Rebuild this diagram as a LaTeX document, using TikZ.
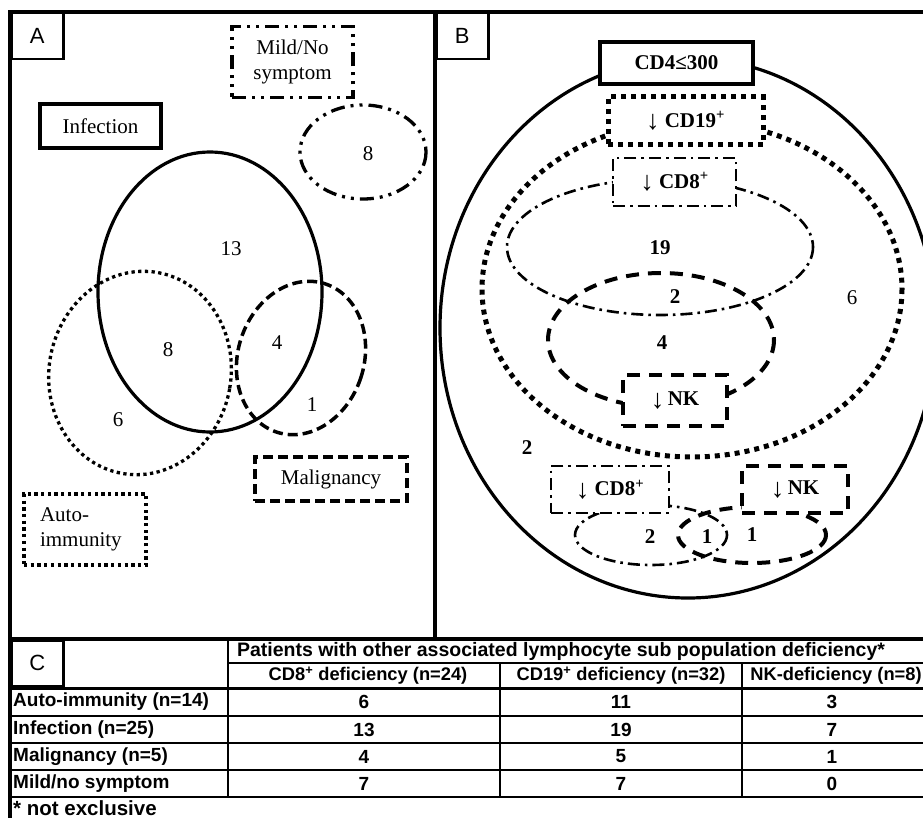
\documentclass[tikz,border=0pt]{standalone}
\usepackage{fontspec}
\setmainfont{Liberation Serif}
\setsansfont{Liberation Sans}
\usetikzlibrary{positioning}

\newcommand{\lowarrow}{\raisebox{-2.5pt}{\fontsize{27}{27}\selectfont\mdseries ↓}}

\tikzset{
  venn/.style={font=\fontsize{21}{25}\selectfont},
  num/.style={venn, inner sep=0pt},
  bnum/.style={venn, inner sep=0pt, font=\fontsize{21}{25}\selectfont\bfseries},
  solidline/.style={line width=3.2pt},
  dotline/.style={line width=3.3pt, dash pattern=on 3.3pt off 3.4pt},
  bigdotline/.style={line width=5pt, dash pattern=on 5pt off 5pt},
  dashline/.style={line width=3.5pt, dash pattern=on 10pt off 5pt},
  bigdashline/.style={line width=4pt, dash pattern=on 13pt off 9pt},
  dashdotdot/.style={line width=3.3pt, dash pattern=on 14pt off 6pt on 3pt off 6pt on 3pt off 6pt},
  dashdot/.style={line width=2.6pt, dash pattern=on 12pt off 5pt on 2.6pt off 5pt},
  labelbox/.style={draw, venn, inner sep=0pt, fill=white},
  cellbox/.style={labelbox, font=\fontsize{21}{25}\selectfont\bfseries},
  panel/.style={draw, line width=2.5pt, minimum width=52pt, minimum height=46pt, inner sep=0pt,
    font=\fontsize{22}{22}\selectfont\sffamily},
  cell/.style={inner sep=0pt, font=\fontsize{19}{20}\selectfont\sffamily\bfseries},
  headcell/.style={inner sep=0pt, font=\fontsize{18.3}{20}\selectfont\sffamily\bfseries},
  rowline/.style={line width=2pt},
}

\begin{document}
\begin{tikzpicture}[x=1pt, y=-1pt]
\useasboundingbox (0,0) rectangle (923,818);
\clip (0,0) rectangle (923,818);

%Frame
\draw[line width=3.5pt] (10,818) -- (10,12) -- (930,12);
\draw[line width=4pt] (435,12) -- (435,639);
\node[panel, anchor=north west] (pa) at (10,12) {A};
\node[panel, anchor=north west] (pb) at (435,12) {B};

%Panel A ellipses
\draw[dashdotdot] (363,152) ellipse [x radius=63, y radius=47];
\draw[solidline] (210,292) ellipse [x radius=112, y radius=140];
\draw[dotline, rotate around={-10:(140,373)}] (140,373) ellipse [x radius=91, y radius=102];
\draw[dashline, rotate around={-18:(301,358)}] (301,358) ellipse [x radius=63, y radius=78];

%Panel A labels
\node[labelbox, dashdotdot, minimum width=121pt, minimum height=71pt, align=center] (mild) at (292.5,62) {Mild/No\\symptom};
\node[labelbox, line width=3.5pt, minimum width=121pt, minimum height=44pt] (infection) at (100.5,126) {Infection};
\node[labelbox, dashline, minimum width=152pt, minimum height=44pt] (malignancy) at (331,479) {Malignancy};
\node[labelbox, dotline, minimum width=122pt, minimum height=71pt, align=left, text width=90pt] (autoimmunity) at (85,529.5) {Auto-\\immunity};

%Panel A numbers
\node[num] (nmild) at (368,154) {8};
\node[num] (ninf) at (231,249) {13};
\node[num] (ninfauto) at (168,350) {8};
\node[num] (nauto) at (118,420) {6};
\node[num] (ninfmal) at (277,343) {4};
\node[num] (nmal) at (312,405) {1};

%Panel B outer ellipse
\draw[solidline] (688,328) ellipse [x radius=248, y radius=270];
\node[cellbox, line width=4pt, minimum width=153pt, minimum height=42pt] (cdfour) at (676.5,63) {CD4≤300};

%CD19 set
\draw[bigdotline] (692,289) ellipse [x radius=210, y radius=168];
\draw[dashdot] (660,247) ellipse [x radius=153, y radius=68];
\draw[bigdashline] (661,340) ellipse [x radius=113, y radius=67];
\node[cellbox, bigdotline, minimum width=155pt, minimum height=48pt] (cdnineteen) at (685.5,121) {\lowarrow\ CD19\textsuperscript{+}};
\node[cellbox, dashdot, minimum width=123pt, minimum height=48pt] (cdeight) at (674.5,182) {\lowarrow\ CD8\textsuperscript{+}};
\node[cellbox, bigdashline, minimum width=104pt, minimum height=51pt] (nk) at (675,400.5) {\lowarrow\,NK};

%Lower sets
\draw[dashdot] (651,535) ellipse [x radius=76, y radius=30];
\draw[bigdashline] (752,535) ellipse [x radius=74, y radius=28];
\node[cellbox, dashdot, minimum width=118pt, minimum height=47pt] (cdeightlow) at (610,489.5) {\lowarrow\ CD8\textsuperscript{+}};
\node[cellbox, bigdashline, minimum width=106pt, minimum height=47pt] (nklow) at (795,489.5) {\lowarrow\,NK};

%Panel B numbers
\node[bnum] (ncdnineteen) at (660,248) {19};
\node[bnum] (ncdeightnk) at (675,297) {2};
\node[bnum] (nnk) at (662,343) {4};
\node[num] (nonly) at (852,298) {6};
\node[bnum] (ncdfour) at (527,448) {2};
\node[bnum] (ncdeightlow) at (650,537) {2};
\node[bnum] (nboth) at (707,537) {1};
\node[bnum] (nnklow) at (752,535) {1};

%Table
\draw[line width=3.5pt] (10,639) -- (930,639);
\node[panel, anchor=north west] (pc) at (10,639) {C};
\draw[rowline] (228,639) -- (228,797);
\draw[rowline] (228,663) -- (930,663);
\draw[rowline] (500,663) -- (500,797);
\draw[rowline] (742,663) -- (742,797);
\draw[line width=3pt] (10,688) -- (930,688);
\foreach \y in {716,743,770,797}
  \draw[rowline] (10,\y) -- (930,\y);

\node[cell, font=\fontsize{19.5}{20}\selectfont\sffamily\bfseries] (head) at (561,651) {Patients with other associated lymphocyte sub population deficiency*};
\node[headcell] (hcdeight) at (368,675.5) {CD8\textsuperscript{+} deficiency (n=24)};
\node[headcell] (hcdnineteen) at (621,675.5) {CD19\textsuperscript{+} deficiency (n=32)};
\node[headcell] (hnk) at (836,675.5) {NK-deficiency (n=8)};

\node[cell, anchor=west] (rauto) at (13,702) {Auto-immunity (n=14)};
\node[cell, anchor=west] (rinf) at (13,729.5) {Infection (n=25)};
\node[cell, anchor=west] (rmal) at (13,756.5) {Malignancy (n=5)};
\node[cell, anchor=west] (rmild) at (13,783.5) {Mild/no symptom};
\node[cell, anchor=west, font=\fontsize{20.5}{20}\selectfont\sffamily\bfseries] (note) at (13,808) {* not exclusive};

\node[cell] (a1) at (364,702) {6};
\node[cell] (a2) at (621,702) {11};
\node[cell] (a3) at (832,702) {3};
\node[cell] (b1) at (364,729.5) {13};
\node[cell] (b2) at (621,729.5) {19};
\node[cell] (b3) at (832,729.5) {7};
\node[cell] (c1) at (364,756.5) {4};
\node[cell] (c2) at (621,756.5) {5};
\node[cell] (c3) at (832,756.5) {1};
\node[cell] (d1) at (364,783.5) {7};
\node[cell] (d2) at (621,783.5) {7};
\node[cell] (d3) at (832,783.5) {0};
\end{tikzpicture}
\end{document}
